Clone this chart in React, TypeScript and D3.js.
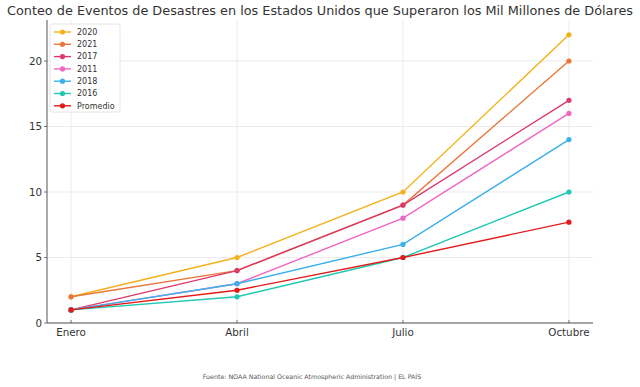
import React from "react";
import * as d3 from "d3";

const months = ["Enero", "Abril", "Julio", "Octubre"];
const seriesNames = ["2020", "2021", "2017", "2011", "2018", "2016", "Promedio"];
const v2020 = [2, 5, 10, 22];
const v2021 = [2, 4, 9, 20];
const v2017 = [1, 4, 9, 17];
const v2011 = [1, 3, 8, 16];
const v2018 = [1, 3, 6, 14];
const v2016 = [1, 2, 5, 10];
const vProm = [1, 2.5, 5, 7.7];
const yTicks = [0, 5, 10, 15, 20];
const colors = ["#f2b21b", "#e8773a", "#dc3a6a", "#f066c2", "#3bb0ea", "#1fc8b2", "#e31a1a"];

const W = 640, H = 387;
const left = 47, right = 593, top = 20, bottom = 323;

export default function App() {
  const values = [v2020, v2021, v2017, v2011, v2018, v2016, vProm];
  const x = d3.scalePoint<string>().domain(months).range([left, right]).padding(0.145);
  const y = d3.scaleLinear().domain([0, 23.13]).range([bottom, top]);
  const line = d3.line<number>().x((_, i) => x(months[i])!).y((d) => y(d));
  const font = "DejaVu Sans, sans-serif";
  return (
    <svg width={W} height={H} style={{ position: "absolute", left: 0, top: 0 }} fontFamily={font}>
      <rect width={W} height={H} fill="#fff" />
      <text x={W / 2} y={15} textAnchor="middle" fontSize={13} fill="#333" textLength={626} lengthAdjust="spacingAndGlyphs">
        Conteo de Eventos de Desastres en los Estados Unidos que Superaron los Mil Millones de Dólares
      </text>
      {yTicks.map((t) => (
        <g key={t}>
          <line x1={left} x2={right} y1={y(t)} y2={y(t)} stroke="#e6e6e6" strokeWidth={0.8} />
          <line x1={left - 3} x2={left} y1={y(t)} y2={y(t)} stroke="#555" strokeWidth={0.8} />
          <text x={left - 5} y={y(t) + 3.5} textAnchor="end" fontSize={10.3} fill="#333">{t}</text>
        </g>
      ))}
      {months.map((m) => (
        <g key={m}>
          <line x1={x(m)} x2={x(m)} y1={top} y2={bottom} stroke="#e6e6e6" strokeWidth={0.8} />
          <line x1={x(m)} x2={x(m)} y1={bottom} y2={bottom - 3} stroke="#555" strokeWidth={0.8} />
          <text x={x(m)} y={bottom + 13} textAnchor="middle" fontSize={10.3} fill="#333">{m}</text>
        </g>
      ))}
      <line x1={left} x2={left} y1={top} y2={bottom} stroke="#555" strokeWidth={1} />
      <line x1={left} x2={right} y1={bottom} y2={bottom} stroke="#555" strokeWidth={1} />
      {values.map((vals, si) => (
        <g key={si}>
          <path d={line(vals)!} fill="none" stroke={colors[si]} strokeWidth={1.4} />
          {vals.map((v, i) => (
            <circle key={i} cx={x(months[i])} cy={y(v)} r={2.6} fill={colors[si]} />
          ))}
        </g>
      ))}
      <g>
        <rect x={50} y={24} width={70} height={88} rx={2} fill="#fff" fillOpacity={0.85} stroke="#ddd" strokeWidth={0.8} />
        {seriesNames.map((n, i) => {
          const yy = 32 + i * 12.3;
          return (
            <g key={n}>
              <line x1={54} x2={71} y1={yy} y2={yy} stroke={colors[i]} strokeWidth={1.4} />
              <circle cx={62.5} cy={yy} r={2.6} fill={colors[i]} />
              <text x={77} y={yy + 2.8} fontSize={8} fill="#333">{n}</text>
            </g>
          );
        })}
      </g>
      <text x={312} y={379} textAnchor="middle" fontSize={6.3} fill="#555">
        Fuente: NOAA National Oceanic Atmospheric Administration | EL PAÍS
      </text>
    </svg>
  );
}
